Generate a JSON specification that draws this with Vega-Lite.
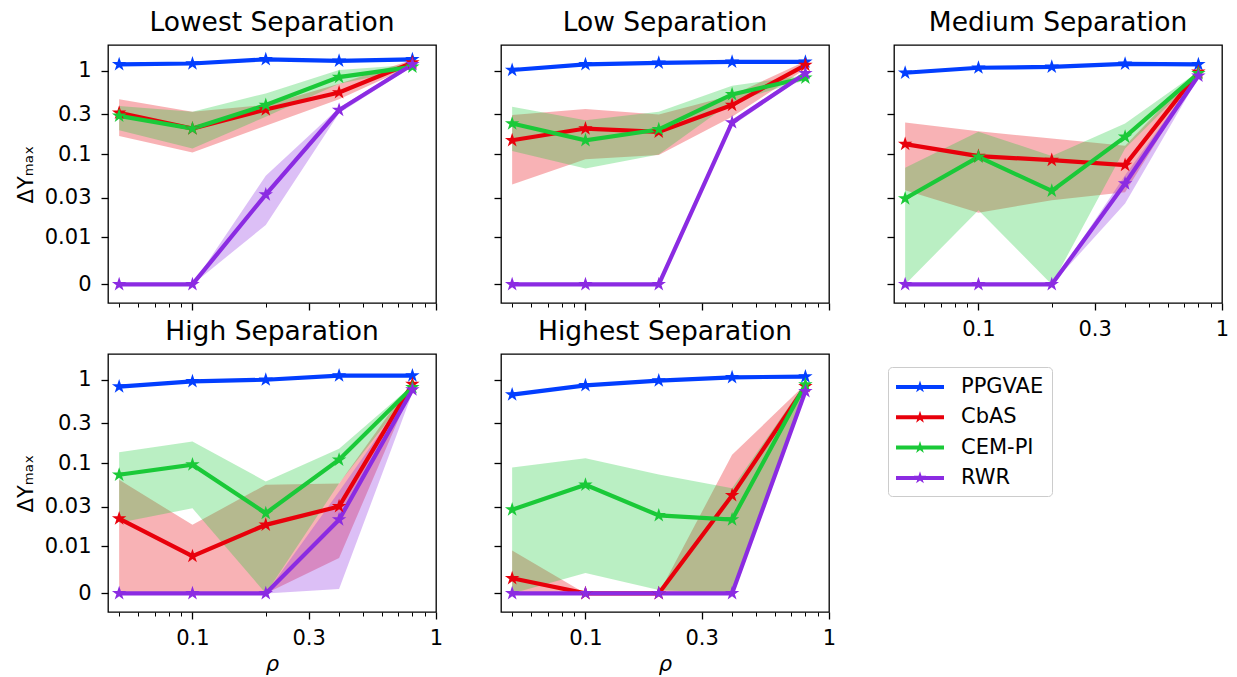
{
  "$schema": "https://vega.github.io/schema/vega-lite/v6.json",
  "autosize": {"type": "pad"},
  "padding": {"left": 14, "top": 8, "right": 5, "bottom": 5},
  "data": {"values": [
    {"p":"Lowest","m":"PPGVAE","x":0.05,"y":1.19,"lo":1.15,"hi":1.23},
    {"p":"Lowest","m":"PPGVAE","x":0.1,"y":1.22,"lo":1.18,"hi":1.26},
    {"p":"Lowest","m":"PPGVAE","x":0.2,"y":1.37,"lo":1.33,"hi":1.41},
    {"p":"Lowest","m":"PPGVAE","x":0.4,"y":1.31,"lo":1.27,"hi":1.35},
    {"p":"Lowest","m":"PPGVAE","x":0.8,"y":1.37,"lo":1.33,"hi":1.41},
    {"p":"Lowest","m":"CbAS","x":0.05,"y":0.313,"lo":0.165,"hi":0.457},
    {"p":"Lowest","m":"CbAS","x":0.1,"y":0.203,"lo":0.105,"hi":0.322},
    {"p":"Lowest","m":"CbAS","x":0.2,"y":0.343,"lo":0.219,"hi":0.39},
    {"p":"Lowest","m":"CbAS","x":0.4,"y":0.549,"lo":0.457,"hi":0.7},
    {"p":"Lowest","m":"CbAS","x":0.8,"y":1.25,"lo":1.15,"hi":1.35},
    {"p":"Lowest","m":"CEM-PI","x":0.05,"y":0.288,"lo":0.194,"hi":0.377},
    {"p":"Lowest","m":"CEM-PI","x":0.1,"y":0.203,"lo":0.117,"hi":0.322},
    {"p":"Lowest","m":"CEM-PI","x":0.2,"y":0.388,"lo":0.281,"hi":0.535},
    {"p":"Lowest","m":"CEM-PI","x":0.4,"y":0.84,"lo":0.7,"hi":1.02},
    {"p":"Lowest","m":"CEM-PI","x":0.8,"y":1.11,"lo":1.05,"hi":1.18},
    {"p":"Lowest","m":"RWR","x":0.05,"y":0,"lo":0,"hi":0},
    {"p":"Lowest","m":"RWR","x":0.1,"y":0,"lo":0,"hi":0},
    {"p":"Lowest","m":"RWR","x":0.2,"y":0.0328,"lo":0.0141,"hi":0.055},
    {"p":"Lowest","m":"RWR","x":0.4,"y":0.338,"lo":0.31,"hi":0.36},
    {"p":"Lowest","m":"RWR","x":0.8,"y":1.19,"lo":1.12,"hi":1.26},

    {"p":"Low","m":"PPGVAE","x":0.05,"y":1.02,"lo":0.98,"hi":1.06},
    {"p":"Low","m":"PPGVAE","x":0.1,"y":1.19,"lo":1.15,"hi":1.23},
    {"p":"Low","m":"PPGVAE","x":0.2,"y":1.24,"lo":1.2,"hi":1.28},
    {"p":"Low","m":"PPGVAE","x":0.4,"y":1.28,"lo":1.24,"hi":1.32},
    {"p":"Low","m":"PPGVAE","x":0.8,"y":1.28,"lo":1.24,"hi":1.32},
    {"p":"Low","m":"CbAS","x":0.05,"y":0.147,"lo":0.0432,"hi":0.294},
    {"p":"Low","m":"CbAS","x":0.1,"y":0.203,"lo":0.087,"hi":0.347},
    {"p":"Low","m":"CbAS","x":0.2,"y":0.185,"lo":0.098,"hi":0.299},
    {"p":"Low","m":"CbAS","x":0.4,"y":0.388,"lo":0.281,"hi":0.51},
    {"p":"Low","m":"CbAS","x":0.8,"y":1.17,"lo":1.05,"hi":1.3},
    {"p":"Low","m":"CEM-PI","x":0.05,"y":0.233,"lo":0.109,"hi":0.37},
    {"p":"Low","m":"CEM-PI","x":0.1,"y":0.147,"lo":0.0673,"hi":0.256},
    {"p":"Low","m":"CEM-PI","x":0.2,"y":0.198,"lo":0.099,"hi":0.322},
    {"p":"Low","m":"CEM-PI","x":0.4,"y":0.52,"lo":0.425,"hi":0.661},
    {"p":"Low","m":"CEM-PI","x":0.8,"y":0.824,"lo":0.77,"hi":0.88},
    {"p":"Low","m":"RWR","x":0.05,"y":0,"lo":0,"hi":0},
    {"p":"Low","m":"RWR","x":0.1,"y":0,"lo":0,"hi":0},
    {"p":"Low","m":"RWR","x":0.2,"y":0,"lo":0,"hi":0},
    {"p":"Low","m":"RWR","x":0.4,"y":0.24,"lo":0.22,"hi":0.26},
    {"p":"Low","m":"RWR","x":0.8,"y":0.928,"lo":0.88,"hi":0.98},

    {"p":"Medium","m":"PPGVAE","x":0.05,"y":0.946,"lo":0.91,"hi":0.98},
    {"p":"Medium","m":"PPGVAE","x":0.1,"y":1.086,"lo":1.05,"hi":1.12},
    {"p":"Medium","m":"PPGVAE","x":0.2,"y":1.11,"lo":1.07,"hi":1.15},
    {"p":"Medium","m":"PPGVAE","x":0.4,"y":1.21,"lo":1.17,"hi":1.25},
    {"p":"Medium","m":"PPGVAE","x":0.8,"y":1.19,"lo":1.15,"hi":1.23},
    {"p":"Medium","m":"CbAS","x":0.05,"y":0.132,"lo":0.037,"hi":0.24},
    {"p":"Medium","m":"CbAS","x":0.1,"y":0.0948,"lo":0.0198,"hi":0.189},
    {"p":"Medium","m":"CbAS","x":0.2,"y":0.0849,"lo":0.0281,"hi":0.154},
    {"p":"Medium","m":"CbAS","x":0.4,"y":0.0739,"lo":0.035,"hi":0.126},
    {"p":"Medium","m":"CbAS","x":0.8,"y":0.97,"lo":0.9,"hi":1.04},
    {"p":"Medium","m":"CEM-PI","x":0.05,"y":0.0294,"lo":0,"hi":0.069},
    {"p":"Medium","m":"CEM-PI","x":0.1,"y":0.093,"lo":0.0212,"hi":0.186},
    {"p":"Medium","m":"CEM-PI","x":0.2,"y":0.0363,"lo":0,"hi":0.0955},
    {"p":"Medium","m":"CEM-PI","x":0.4,"y":0.1615,"lo":0.117,"hi":0.233},
    {"p":"Medium","m":"CEM-PI","x":0.8,"y":0.928,"lo":0.88,"hi":0.98},
    {"p":"Medium","m":"RWR","x":0.05,"y":0,"lo":0,"hi":0},
    {"p":"Medium","m":"RWR","x":0.1,"y":0,"lo":0,"hi":0},
    {"p":"Medium","m":"RWR","x":0.2,"y":0,"lo":0,"hi":0},
    {"p":"Medium","m":"RWR","x":0.4,"y":0.0445,"lo":0.0256,"hi":0.056},
    {"p":"Medium","m":"RWR","x":0.8,"y":0.87,"lo":0.83,"hi":0.91},

    {"p":"High","m":"PPGVAE","x":0.05,"y":0.827,"lo":0.8,"hi":0.855},
    {"p":"High","m":"PPGVAE","x":0.1,"y":0.957,"lo":0.925,"hi":0.99},
    {"p":"High","m":"PPGVAE","x":0.2,"y":1.0,"lo":0.97,"hi":1.03},
    {"p":"High","m":"PPGVAE","x":0.4,"y":1.12,"lo":1.09,"hi":1.15},
    {"p":"High","m":"PPGVAE","x":0.8,"y":1.12,"lo":1.09,"hi":1.15},
    {"p":"High","m":"CbAS","x":0.05,"y":0.0216,"lo":0,"hi":0.0633},
    {"p":"High","m":"CbAS","x":0.1,"y":0.0079,"lo":0,"hi":0.0182},
    {"p":"High","m":"CbAS","x":0.2,"y":0.0182,"lo":0,"hi":0.0552},
    {"p":"High","m":"CbAS","x":0.4,"y":0.0303,"lo":0.0075,"hi":0.057},
    {"p":"High","m":"CbAS","x":0.8,"y":0.888,"lo":0.82,"hi":0.95},
    {"p":"High","m":"CEM-PI","x":0.05,"y":0.0727,"lo":0.0193,"hi":0.135},
    {"p":"High","m":"CEM-PI","x":0.1,"y":0.096,"lo":0.0289,"hi":0.182},
    {"p":"High","m":"CEM-PI","x":0.2,"y":0.0251,"lo":0,"hi":0.0605},
    {"p":"High","m":"CEM-PI","x":0.4,"y":0.11,"lo":0.0574,"hi":0.149},
    {"p":"High","m":"CEM-PI","x":0.8,"y":0.81,"lo":0.76,"hi":0.86},
    {"p":"High","m":"RWR","x":0.05,"y":0,"lo":0,"hi":0},
    {"p":"High","m":"RWR","x":0.1,"y":0,"lo":0,"hi":0},
    {"p":"High","m":"RWR","x":0.2,"y":0,"lo":0,"hi":0},
    {"p":"High","m":"RWR","x":0.4,"y":0.021,"lo":0.0008,"hi":0.0458},
    {"p":"High","m":"RWR","x":0.8,"y":0.76,"lo":0.7,"hi":0.82},

    {"p":"Highest","m":"PPGVAE","x":0.05,"y":0.663,"lo":0.64,"hi":0.69},
    {"p":"Highest","m":"PPGVAE","x":0.1,"y":0.857,"lo":0.83,"hi":0.885},
    {"p":"Highest","m":"PPGVAE","x":0.2,"y":0.975,"lo":0.945,"hi":1.005},
    {"p":"Highest","m":"PPGVAE","x":0.4,"y":1.07,"lo":1.04,"hi":1.1},
    {"p":"Highest","m":"PPGVAE","x":0.8,"y":1.09,"lo":1.06,"hi":1.12},
    {"p":"Highest","m":"CbAS","x":0.05,"y":0.00306,"lo":0,"hi":0.0091},
    {"p":"Highest","m":"CbAS","x":0.1,"y":0,"lo":0,"hi":0},
    {"p":"Highest","m":"CbAS","x":0.2,"y":0,"lo":0,"hi":0},
    {"p":"Highest","m":"CbAS","x":0.4,"y":0.0411,"lo":0,"hi":0.126},
    {"p":"Highest","m":"CbAS","x":0.8,"y":0.833,"lo":0.78,"hi":0.88},
    {"p":"Highest","m":"CEM-PI","x":0.05,"y":0.0277,"lo":0,"hi":0.0889},
    {"p":"Highest","m":"CEM-PI","x":0.1,"y":0.055,"lo":0.0043,"hi":0.115},
    {"p":"Highest","m":"CEM-PI","x":0.2,"y":0.0236,"lo":0.0005,"hi":0.073},
    {"p":"Highest","m":"CEM-PI","x":0.4,"y":0.021,"lo":0,"hi":0.05},
    {"p":"Highest","m":"CEM-PI","x":0.8,"y":0.874,"lo":0.82,"hi":0.92},
    {"p":"Highest","m":"RWR","x":0.05,"y":0,"lo":0,"hi":0},
    {"p":"Highest","m":"RWR","x":0.1,"y":0,"lo":0,"hi":0},
    {"p":"Highest","m":"RWR","x":0.2,"y":0,"lo":0,"hi":0},
    {"p":"Highest","m":"RWR","x":0.4,"y":0,"lo":0,"hi":0},
    {"p":"Highest","m":"RWR","x":0.8,"y":0.726,"lo":0.69,"hi":0.76}
  ]},
  "columns": 3,
  "spacing": {"row": 51, "column": 65},
  "bounds": "flush",
  "concat": [
    {
      "title": "Lowest Separation", "width": 328, "height": 258,
      "transform": [{"filter": "datum.p === 'Lowest'"}],
      "resolve": {"axis": {"x": "independent"}},
      "layer": [
        {"mark": {"type": "area", "opacity": 0.3},
         "encoding": {
           "x": {"field": "x", "type": "quantitative", "scale": {"type": "log", "domain": [0.045, 1], "nice": false}, "axis": {"orient": "bottom", "values": [0.05,0.06,0.07,0.08,0.09,0.2,0.4,0.5,0.6,0.7,0.8,0.9], "tickSize": 4, "tickWidth": 1, "labels": false, "title": null, "domain": false}},
           "y": {"field": "lo", "type": "quantitative", "scale": {"type": "symlog", "constant": 0.0001, "domain": [-0.004,0,0.001,0.002,0.004,0.006,0.008,0.01,2.033], "range": [258,239.4,234.7,230,220.6,211.2,201.8,192.4,0], "nice": false, "zero": false}, "axis": {"values": [0,0.01,0.03,0.1,0.3,1], "format": "~g", "labels": true, "title": "ΔYₘₐₓ"}},
           "y2": {"field": "hi"},
           "fill": {"field": "m", "type": "nominal", "scale": {"domain": ["RWR","CEM-PI","CbAS","PPGVAE"], "range": ["#8b2be2","#1ac938","#e8000b","#023eff"]}, "legend": null}}},
        {"mark": {"type": "line", "strokeWidth": 4.2},
         "encoding": {
           "x": {"field": "x", "type": "quantitative", "scale": {"type": "log", "domain": [0.045, 1], "nice": false}, "axis": {"orient": "bottom", "values": [0.1,0.3,1], "format": "~g", "labels": false, "title": null}},
           "y": {"field": "y", "type": "quantitative", "scale": {"type": "symlog", "constant": 0.0001, "domain": [-0.004,0,0.001,0.002,0.004,0.006,0.008,0.01,2.033], "range": [258,239.4,234.7,230,220.6,211.2,201.8,192.4,0], "nice": false, "zero": false}, "axis": {"values": [0,0.01,0.03,0.1,0.3,1], "format": "~g", "labels": true, "title": "ΔYₘₐₓ"}},
           "stroke": {"field": "m", "type": "nominal", "scale": {"domain": ["CbAS","PPGVAE","RWR","CEM-PI"], "range": ["#e8000b","#023eff","#8b2be2","#1ac938"]}, "legend": null}}},
        {"mark": {"type": "point", "filled": true, "opacity": 1, "size": 230},
         "encoding": {
           "x": {"field": "x", "type": "quantitative", "scale": {"type": "log", "domain": [0.045, 1], "nice": false}, "axis": null},
           "y": {"field": "y", "type": "quantitative", "scale": {"type": "symlog", "constant": 0.0001, "domain": [-0.004,0,0.001,0.002,0.004,0.006,0.008,0.01,2.033], "range": [258,239.4,234.7,230,220.6,211.2,201.8,192.4,0], "nice": false, "zero": false}, "axis": {"values": [0,0.01,0.03,0.1,0.3,1], "format": "~g", "labels": true, "title": "ΔYₘₐₓ"}},
           "color": {"field": "m", "type": "nominal", "scale": {"domain": ["PPGVAE","CbAS","CEM-PI","RWR"], "range": ["#023eff","#e8000b","#1ac938","#8b2be2"]},
             "legend": {"orient": "none", "legendX": 780, "legendY": 322, "title": null}}}}
      ]
    },
    {
      "title": "Low Separation", "width": 328, "height": 258,
      "transform": [{"filter": "datum.p === 'Low'"}],
      "resolve": {"axis": {"x": "independent"}},
      "layer": [
        {"mark": {"type": "area", "opacity": 0.3},
         "encoding": {
           "x": {"field": "x", "type": "quantitative", "scale": {"type": "log", "domain": [0.045, 1], "nice": false}, "axis": {"orient": "bottom", "values": [0.05,0.06,0.07,0.08,0.09,0.2,0.4,0.5,0.6,0.7,0.8,0.9], "tickSize": 4, "tickWidth": 1, "labels": false, "title": null, "domain": false}},
           "y": {"field": "lo", "type": "quantitative", "scale": {"type": "symlog", "constant": 0.0001, "domain": [-0.004,0,0.001,0.002,0.004,0.006,0.008,0.01,2.033], "range": [258,239.4,234.7,230,220.6,211.2,201.8,192.4,0], "nice": false, "zero": false}, "axis": {"values": [0,0.01,0.03,0.1,0.3,1], "format": "~g", "labels": false, "title": null}},
           "y2": {"field": "hi"},
           "fill": {"field": "m", "type": "nominal", "scale": {"domain": ["RWR","CEM-PI","CbAS","PPGVAE"], "range": ["#8b2be2","#1ac938","#e8000b","#023eff"]}, "legend": null}}},
        {"mark": {"type": "line", "strokeWidth": 4.2},
         "encoding": {
           "x": {"field": "x", "type": "quantitative", "scale": {"type": "log", "domain": [0.045, 1], "nice": false}, "axis": {"orient": "bottom", "values": [0.1,0.3,1], "format": "~g", "labels": false, "title": null}},
           "y": {"field": "y", "type": "quantitative", "scale": {"type": "symlog", "constant": 0.0001, "domain": [-0.004,0,0.001,0.002,0.004,0.006,0.008,0.01,2.033], "range": [258,239.4,234.7,230,220.6,211.2,201.8,192.4,0], "nice": false, "zero": false}, "axis": {"values": [0,0.01,0.03,0.1,0.3,1], "format": "~g", "labels": false, "title": null}},
           "stroke": {"field": "m", "type": "nominal", "scale": {"domain": ["CbAS","PPGVAE","RWR","CEM-PI"], "range": ["#e8000b","#023eff","#8b2be2","#1ac938"]}, "legend": null}}},
        {"mark": {"type": "point", "filled": true, "opacity": 1, "size": 230},
         "encoding": {
           "x": {"field": "x", "type": "quantitative", "scale": {"type": "log", "domain": [0.045, 1], "nice": false}, "axis": null},
           "y": {"field": "y", "type": "quantitative", "scale": {"type": "symlog", "constant": 0.0001, "domain": [-0.004,0,0.001,0.002,0.004,0.006,0.008,0.01,2.033], "range": [258,239.4,234.7,230,220.6,211.2,201.8,192.4,0], "nice": false, "zero": false}, "axis": {"values": [0,0.01,0.03,0.1,0.3,1], "format": "~g", "labels": false, "title": null}},
           "color": {"field": "m", "type": "nominal", "scale": {"domain": ["PPGVAE","CbAS","CEM-PI","RWR"], "range": ["#023eff","#e8000b","#1ac938","#8b2be2"]},
             "legend": {"orient": "none", "legendX": 780, "legendY": 322, "title": null}}}}
      ]
    },
    {
      "title": "Medium Separation", "width": 328, "height": 258,
      "transform": [{"filter": "datum.p === 'Medium'"}],
      "resolve": {"axis": {"x": "independent"}},
      "layer": [
        {"mark": {"type": "area", "opacity": 0.3},
         "encoding": {
           "x": {"field": "x", "type": "quantitative", "scale": {"type": "log", "domain": [0.045, 1], "nice": false}, "axis": {"orient": "bottom", "values": [0.05,0.06,0.07,0.08,0.09,0.2,0.4,0.5,0.6,0.7,0.8,0.9], "tickSize": 4, "tickWidth": 1, "labels": false, "title": null, "domain": false}},
           "y": {"field": "lo", "type": "quantitative", "scale": {"type": "symlog", "constant": 0.0001, "domain": [-0.004,0,0.001,0.002,0.004,0.006,0.008,0.01,2.033], "range": [258,239.4,234.7,230,220.6,211.2,201.8,192.4,0], "nice": false, "zero": false}, "axis": {"values": [0,0.01,0.03,0.1,0.3,1], "format": "~g", "labels": false, "title": null}},
           "y2": {"field": "hi"},
           "fill": {"field": "m", "type": "nominal", "scale": {"domain": ["RWR","CEM-PI","CbAS","PPGVAE"], "range": ["#8b2be2","#1ac938","#e8000b","#023eff"]}, "legend": null}}},
        {"mark": {"type": "line", "strokeWidth": 4.2},
         "encoding": {
           "x": {"field": "x", "type": "quantitative", "scale": {"type": "log", "domain": [0.045, 1], "nice": false}, "axis": {"orient": "bottom", "values": [0.1,0.3,1], "format": "~g", "labels": true, "title": null}},
           "y": {"field": "y", "type": "quantitative", "scale": {"type": "symlog", "constant": 0.0001, "domain": [-0.004,0,0.001,0.002,0.004,0.006,0.008,0.01,2.033], "range": [258,239.4,234.7,230,220.6,211.2,201.8,192.4,0], "nice": false, "zero": false}, "axis": {"values": [0,0.01,0.03,0.1,0.3,1], "format": "~g", "labels": false, "title": null}},
           "stroke": {"field": "m", "type": "nominal", "scale": {"domain": ["CbAS","PPGVAE","RWR","CEM-PI"], "range": ["#e8000b","#023eff","#8b2be2","#1ac938"]}, "legend": null}}},
        {"mark": {"type": "point", "filled": true, "opacity": 1, "size": 230},
         "encoding": {
           "x": {"field": "x", "type": "quantitative", "scale": {"type": "log", "domain": [0.045, 1], "nice": false}, "axis": null},
           "y": {"field": "y", "type": "quantitative", "scale": {"type": "symlog", "constant": 0.0001, "domain": [-0.004,0,0.001,0.002,0.004,0.006,0.008,0.01,2.033], "range": [258,239.4,234.7,230,220.6,211.2,201.8,192.4,0], "nice": false, "zero": false}, "axis": {"values": [0,0.01,0.03,0.1,0.3,1], "format": "~g", "labels": false, "title": null}},
           "color": {"field": "m", "type": "nominal", "scale": {"domain": ["PPGVAE","CbAS","CEM-PI","RWR"], "range": ["#023eff","#e8000b","#1ac938","#8b2be2"]},
             "legend": {"orient": "none", "legendX": 780, "legendY": 322, "title": null}}}}
      ]
    },
    {
      "title": "High Separation", "width": 328, "height": 258,
      "transform": [{"filter": "datum.p === 'High'"}],
      "resolve": {"axis": {"x": "independent"}},
      "layer": [
        {"mark": {"type": "area", "opacity": 0.3},
         "encoding": {
           "x": {"field": "x", "type": "quantitative", "scale": {"type": "log", "domain": [0.045, 1], "nice": false}, "axis": {"orient": "bottom", "values": [0.05,0.06,0.07,0.08,0.09,0.2,0.4,0.5,0.6,0.7,0.8,0.9], "tickSize": 4, "tickWidth": 1, "labels": false, "title": null, "domain": false}},
           "y": {"field": "lo", "type": "quantitative", "scale": {"type": "symlog", "constant": 0.0001, "domain": [-0.004,0,0.001,0.002,0.004,0.006,0.008,0.01,2.033], "range": [258,239.4,234.7,230,220.6,211.2,201.8,192.4,0], "nice": false, "zero": false}, "axis": {"values": [0,0.01,0.03,0.1,0.3,1], "format": "~g", "labels": true, "title": "ΔYₘₐₓ"}},
           "y2": {"field": "hi"},
           "fill": {"field": "m", "type": "nominal", "scale": {"domain": ["RWR","CEM-PI","CbAS","PPGVAE"], "range": ["#8b2be2","#1ac938","#e8000b","#023eff"]}, "legend": null}}},
        {"mark": {"type": "line", "strokeWidth": 4.2},
         "encoding": {
           "x": {"field": "x", "type": "quantitative", "scale": {"type": "log", "domain": [0.045, 1], "nice": false}, "axis": {"orient": "bottom", "values": [0.1,0.3,1], "format": "~g", "labels": true, "title": "ρ"}},
           "y": {"field": "y", "type": "quantitative", "scale": {"type": "symlog", "constant": 0.0001, "domain": [-0.004,0,0.001,0.002,0.004,0.006,0.008,0.01,2.033], "range": [258,239.4,234.7,230,220.6,211.2,201.8,192.4,0], "nice": false, "zero": false}, "axis": {"values": [0,0.01,0.03,0.1,0.3,1], "format": "~g", "labels": true, "title": "ΔYₘₐₓ"}},
           "stroke": {"field": "m", "type": "nominal", "scale": {"domain": ["CbAS","PPGVAE","RWR","CEM-PI"], "range": ["#e8000b","#023eff","#8b2be2","#1ac938"]}, "legend": null}}},
        {"mark": {"type": "point", "filled": true, "opacity": 1, "size": 230},
         "encoding": {
           "x": {"field": "x", "type": "quantitative", "scale": {"type": "log", "domain": [0.045, 1], "nice": false}, "axis": null},
           "y": {"field": "y", "type": "quantitative", "scale": {"type": "symlog", "constant": 0.0001, "domain": [-0.004,0,0.001,0.002,0.004,0.006,0.008,0.01,2.033], "range": [258,239.4,234.7,230,220.6,211.2,201.8,192.4,0], "nice": false, "zero": false}, "axis": {"values": [0,0.01,0.03,0.1,0.3,1], "format": "~g", "labels": true, "title": "ΔYₘₐₓ"}},
           "color": {"field": "m", "type": "nominal", "scale": {"domain": ["PPGVAE","CbAS","CEM-PI","RWR"], "range": ["#023eff","#e8000b","#1ac938","#8b2be2"]},
             "legend": {"orient": "none", "legendX": 780, "legendY": 322, "title": null}}}}
      ]
    },
    {
      "title": "Highest Separation", "width": 328, "height": 258,
      "transform": [{"filter": "datum.p === 'Highest'"}],
      "resolve": {"axis": {"x": "independent"}},
      "layer": [
        {"mark": {"type": "area", "opacity": 0.3},
         "encoding": {
           "x": {"field": "x", "type": "quantitative", "scale": {"type": "log", "domain": [0.045, 1], "nice": false}, "axis": {"orient": "bottom", "values": [0.05,0.06,0.07,0.08,0.09,0.2,0.4,0.5,0.6,0.7,0.8,0.9], "tickSize": 4, "tickWidth": 1, "labels": false, "title": null, "domain": false}},
           "y": {"field": "lo", "type": "quantitative", "scale": {"type": "symlog", "constant": 0.0001, "domain": [-0.004,0,0.001,0.002,0.004,0.006,0.008,0.01,2.033], "range": [258,239.4,234.7,230,220.6,211.2,201.8,192.4,0], "nice": false, "zero": false}, "axis": {"values": [0,0.01,0.03,0.1,0.3,1], "format": "~g", "labels": false, "title": null}},
           "y2": {"field": "hi"},
           "fill": {"field": "m", "type": "nominal", "scale": {"domain": ["RWR","CEM-PI","CbAS","PPGVAE"], "range": ["#8b2be2","#1ac938","#e8000b","#023eff"]}, "legend": null}}},
        {"mark": {"type": "line", "strokeWidth": 4.2},
         "encoding": {
           "x": {"field": "x", "type": "quantitative", "scale": {"type": "log", "domain": [0.045, 1], "nice": false}, "axis": {"orient": "bottom", "values": [0.1,0.3,1], "format": "~g", "labels": true, "title": "ρ"}},
           "y": {"field": "y", "type": "quantitative", "scale": {"type": "symlog", "constant": 0.0001, "domain": [-0.004,0,0.001,0.002,0.004,0.006,0.008,0.01,2.033], "range": [258,239.4,234.7,230,220.6,211.2,201.8,192.4,0], "nice": false, "zero": false}, "axis": {"values": [0,0.01,0.03,0.1,0.3,1], "format": "~g", "labels": false, "title": null}},
           "stroke": {"field": "m", "type": "nominal", "scale": {"domain": ["CbAS","PPGVAE","RWR","CEM-PI"], "range": ["#e8000b","#023eff","#8b2be2","#1ac938"]}, "legend": null}}},
        {"mark": {"type": "point", "filled": true, "opacity": 1, "size": 230},
         "encoding": {
           "x": {"field": "x", "type": "quantitative", "scale": {"type": "log", "domain": [0.045, 1], "nice": false}, "axis": null},
           "y": {"field": "y", "type": "quantitative", "scale": {"type": "symlog", "constant": 0.0001, "domain": [-0.004,0,0.001,0.002,0.004,0.006,0.008,0.01,2.033], "range": [258,239.4,234.7,230,220.6,211.2,201.8,192.4,0], "nice": false, "zero": false}, "axis": {"values": [0,0.01,0.03,0.1,0.3,1], "format": "~g", "labels": false, "title": null}},
           "color": {"field": "m", "type": "nominal", "scale": {"domain": ["PPGVAE","CbAS","CEM-PI","RWR"], "range": ["#023eff","#e8000b","#1ac938","#8b2be2"]},
             "legend": {"orient": "none", "legendX": 780, "legendY": 322, "title": null}}}}
      ]
    }
  ],
  "config": {
    "font": "DejaVu Sans",
    "view": {"stroke": "#000000", "strokeWidth": 1.3},
    "point": {"shape": "M0,-1L0.2245,-0.309L0.951,-0.309L0.3633,0.118L0.588,0.809L0,0.382L-0.588,0.809L-0.3633,0.118L-0.951,-0.309L-0.2245,-0.309Z"},
    "axis": {"grid": false, "domain": false, "tickColor": "#000000", "tickWidth": 1.3, "tickSize": 7, "labelColor": "#000000", "labelFontSize": 21, "labelFont": "DejaVu Sans", "labelFlush": false, "labelOverlap": false, "titleFontSize": 21, "titleFont": "DejaVu Sans", "titleColor": "#000000", "titleFontWeight": "normal", "titlePadding": 8},
    "axisX": {"titleFontStyle": "italic", "titlePadding": 5, "labelPadding": 8},
    "axisY": {"labelPadding": 10},
    "title": {"fontSize": 26.5, "fontWeight": "normal", "font": "DejaVu Sans", "color": "#000000", "offset": 9, "baseline": "alphabetic"},
    "legend": {"symbolType": "M1,-0.55L1.123,-0.17L1.523,-0.17L1.2,0.065L1.323,0.445L1,0.21L0.677,0.445L0.8,0.065L0.477,-0.17L0.877,-0.17ZM-1,-0.167H3V0.167H-1Z", "symbolSize": 576, "labelOffset": 41, "rowPadding": 8.3, "padding": 8, "strokeColor": "#cccccc", "cornerRadius": 4, "fillColor": "#ffffff", "labelFontSize": 21, "labelFont": "DejaVu Sans", "labelColor": "#000000", "symbolStrokeWidth": 0, "symbolOpacity": 1}
  }
}
